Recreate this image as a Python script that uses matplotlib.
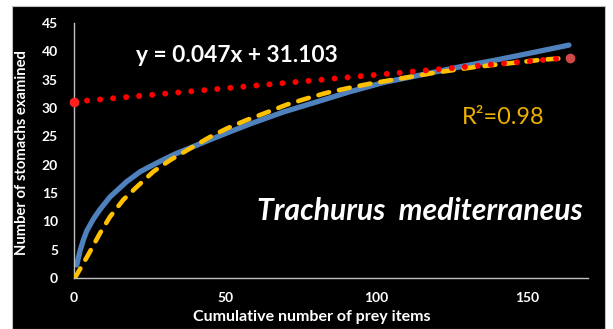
import matplotlib
matplotlib.use('Agg')
import matplotlib.pyplot as plt
from matplotlib.patches import Rectangle

# ---- data ----
blue_x = [0.9, 2.0, 3.1, 4.2, 6.4, 8.6, 11.9, 17.4, 22.0, 28.5, 33.5, 39.5, 45.0,
          50.6, 58.3, 69.3, 80.4, 91.4, 102.4, 113.5, 123.4, 128.9, 139.9,
          151.0, 163.7]
blue_y = [2.3, 4.8, 6.7, 8.3, 10.4, 12.1, 14.3, 17.0, 18.8, 20.6, 21.9, 23.2, 24.4,
          25.6, 27.2, 29.3, 31.1, 32.9, 34.5, 35.7, 36.8, 37.4, 38.5,
          39.7, 41.1]

yellow_x = [0.3, 4.7, 8.6, 11.9, 16.3, 20.8, 26.3, 31.8, 39.5, 45.0, 50.6, 57.2,
            62.7, 70.4, 77.1, 83.7, 91.4, 98.0, 104.6, 111.3, 119.0, 125.6,
            132.2, 138.8, 147.7, 154.3, 162.0, 164.0]
yellow_y = [0.0, 4.1, 7.9, 10.8, 13.8, 16.1, 18.8, 20.8, 23.2, 24.9, 26.4, 27.9,
            29.0, 30.6, 31.7, 32.7, 33.6, 34.3, 34.9, 35.5, 36.2, 36.7,
            37.2, 37.6, 38.1, 38.5, 38.8, 38.9]

trend_x = [0, 164]
trend_y = [31.1, 38.9]

x_ticks = [0, 50, 100, 150]
y_ticks = [0, 5, 10, 15, 20, 25, 30, 35, 40, 45]

equation = "y = 0.047x + 31.103"
r2_text = "R\u00b2=0.98"
species = "Trachurus  mediterraneus"
x_label = "Cumulative number of prey items"
y_label = "Number of stomachs examined"

# ---- figure ----
W, H = 613, 329
fig = plt.figure(figsize=(W / 100, H / 100), dpi=100)
fig.patch.set_facecolor('white')
bg = Rectangle((12 / W, 0), (605 - 12) / W, (329 - 6) / H,
               transform=fig.transFigure, facecolor='black',
               edgecolor='#bfbfbf', lw=0.8, zorder=-10)
fig.patches.append(bg)

FONT = ['Lato', 'DejaVu Sans']


def px(x, y):
    return x / W, 1 - y / H


ax_l, ax_r, ax_t, ax_b = 74, 588, 23, 278
ax = fig.add_axes([ax_l / W, 1 - ax_b / H, (ax_r - ax_l) / W, (ax_b - ax_t) / H])
ax.set_zorder(1)
ax.set_facecolor('none')
ax.set_xlim(0, 170)
ax.set_ylim(0, 45)
for s in ['top', 'right']:
    ax.spines[s].set_visible(False)
for s in ['left', 'bottom']:
    ax.spines[s].set_color('#bfbfbf')
    ax.spines[s].set_linewidth(1.0)
ax.set_xticks(x_ticks)
ax.set_yticks(y_ticks)
ax.tick_params(length=0, colors='white')
ax.tick_params(axis='y', pad=11.5)
ax.tick_params(axis='x', pad=10)
for lab in ax.get_xticklabels() + ax.get_yticklabels():
    lab.set_fontfamily(FONT)
    lab.set_fontweight('bold')
    lab.set_fontsize(10)
    lab.set_color('white')

ax.plot(blue_x, blue_y, color='#4f81bd', lw=3.8, solid_capstyle='round',
        solid_joinstyle='round', zorder=2)
ax.plot(yellow_x, yellow_y, color='#ffc000', lw=3.3, linestyle=(0, (2.4, 2.2)),
        dash_capstyle='round', zorder=3)
ax.plot(trend_x, trend_y, color='#ff0000', lw=4.3, linestyle=(0, (0.01, 2.18)),
        dash_capstyle='round', zorder=4)
ax.plot(trend_x[:1], trend_y[:1], 'o', color='#ff2020', ms=7, mec='none', zorder=5, clip_on=False)
ax.plot(trend_x[-1:], trend_y[-1:], 'o', color='#d04848', ms=7, mec='none', zorder=5, clip_on=False)

# ---- texts ----
fig.text(*px(237, 56), equation, color='white', fontsize=16.4, fontweight='bold',
         family=FONT, ha='center', va='center')
fig.text(*px(503, 117), r2_text, color='#edb100', fontsize=16.9,
         family=FONT, ha='center', va='center')
fig.text(*px(420, 211), species, color='white', fontsize=21.7, fontweight='bold',
         style='italic', family=FONT, ha='center', va='center')
fig.text(*px(312, 317), x_label, color='white', fontsize=11.5, fontweight='bold',
         family=FONT, ha='center', va='center')
fig.text(*px(22, 153), y_label, color='white', fontsize=10.6, fontweight='bold',
         family=FONT, ha='center', va='center', rotation=90)

fig.savefig('out.png', dpi=100, facecolor=fig.get_facecolor())
